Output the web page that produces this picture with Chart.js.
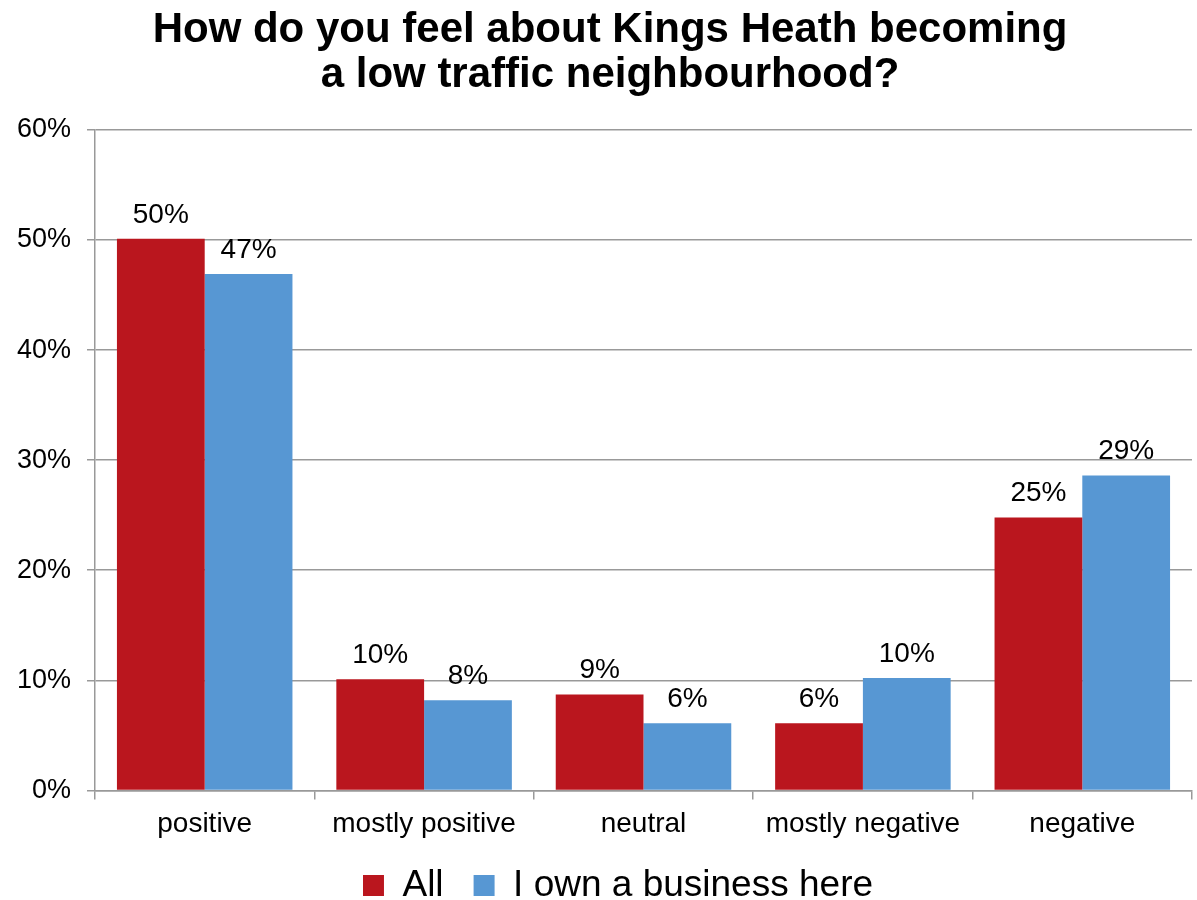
<!DOCTYPE html>
<html>
<head>
<meta charset="utf-8">
<script src="https://cdn.jsdelivr.net/npm/chart.js@4.4.0/dist/chart.umd.min.js"></script>
<style>
  html, body { margin: 0; padding: 0; background: #fff; }
  #wrap { width: 1197px; height: 900px; }
</style>
</head>
<body>
<div id="wrap"><canvas id="feelChart" width="1197" height="900"></canvas></div>
<script>
const categories = ['positive', 'mostly positive', 'neutral', 'mostly negative', 'negative'];
const allValues = [50.1, 10.1, 8.7, 6.1, 24.8];
const businessValues = [46.9, 8.2, 6.1, 10.2, 28.6];
const yTicks = [0, 10, 20, 30, 40, 50, 60];

const FONT = "'Liberation Sans', Arial, sans-serif";
const RED = '#BA161E';
const BLUE = '#5797D3';
const GRID = '#999999';

// draw the rounded % above each bar
const barLabels = {
    id: 'barLabels',
    afterDatasetsDraw(chart) {
        const ctx = chart.ctx;
        ctx.save();
        ctx.font = '28px ' + FONT;
        ctx.fillStyle = '#000';
        ctx.textAlign = 'center';
        ctx.textBaseline = 'bottom';
        chart.data.datasets.forEach((ds, i) => {
            const meta = chart.getDatasetMeta(i);
            meta.data.forEach((bar, j) => {
                ctx.fillText(Math.round(ds.data[j]) + '%', bar.x, bar.y - 10);
            });
        });
        ctx.restore();
    }
};

// legend uses a wide item gap (padding), so trim its height and nudge it
// title and legend sit a little right of the canvas centre in the original
const boxTweaks = {
    id: 'boxTweaks',
    beforeInit(chart) {
        const fit = chart.legend.fit;
        chart.legend.fit = function () {
            fit.bind(chart.legend)();
            this.height -= 26;
        };
    },
    afterLayout(chart) {
        chart.titleBlock.left += 28;
        chart.legend.left += 44;
        chart.legend.top -= 12;
    }
};

new Chart(document.getElementById('feelChart').getContext('2d'), {
    type: 'bar',
    data: {
        labels: categories,
        datasets: [
            { label: 'All', data: allValues, backgroundColor: RED, borderWidth: 0 },
            { label: 'I own a business here', data: businessValues, backgroundColor: BLUE, borderWidth: 0 }
        ]
    },
    options: {
        responsive: false,
        animation: false,
        layout: { padding: { left: 0, right: 5, top: 8, bottom: 0 } },
        datasets: { bar: { categoryPercentage: 0.8, barPercentage: 1.0 } },
        plugins: {
            title: {
                display: true,
                text: ['How do you feel about Kings Heath becoming', 'a low traffic neighbourhood?'],
                color: '#000',
                font: { family: FONT, size: 42, weight: 'bold', lineHeight: 1.07 },
                padding: { top: 0, bottom: 32 }
            },
            legend: {
                position: 'bottom',
                labels: {
                    color: '#000',
                    font: { family: FONT, size: 37 },
                    boxWidth: 21,
                    boxHeight: 21,
                    padding: 30
                }
            },
            tooltip: { enabled: false }
        },
        scales: {
            x: {
                grid: {
                    display: true,
                    drawOnChartArea: false,
                    drawTicks: true,
                    offset: true,
                    tickLength: 9,
                    color: GRID,
                    lineWidth: 1.5
                },
                border: { color: GRID, width: 1.5 },
                ticks: { color: '#000', font: { family: FONT, size: 28 }, padding: 8 }
            },
            y: {
                min: 0,
                max: 60,
                afterBuildTicks: (axis) => { axis.ticks = yTicks.map(v => ({ value: v })); },
                afterFit: (axis) => { axis.width = 95; },
                grid: { color: GRID, lineWidth: 1.5, tickLength: 8 },
                border: { color: GRID, width: 1.5 },
                ticks: {
                    color: '#000',
                    font: { family: FONT, size: 27 },
                    padding: 16,
                    callback: (v) => v + '%'
                }
            }
        }
    },
    plugins: [barLabels, boxTweaks]
});
</script>
</body>
</html>
